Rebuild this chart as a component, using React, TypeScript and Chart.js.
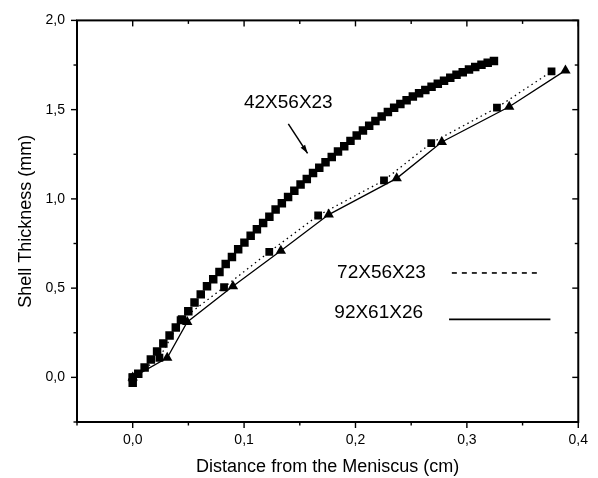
import React, { useEffect, useRef } from 'react';
import { Chart, registerables } from 'chart.js';

Chart.register(...registerables);

// ---- data (cm, mm) ----
const S42_X = [0.000, 0.000, 0.0050, 0.0107, 0.0163, 0.0219, 0.0275, 0.0331, 0.0387, 0.0443, 0.0499, 0.0555,
  0.0611, 0.0667, 0.0723, 0.0779, 0.0835, 0.0891, 0.0947, 0.1003, 0.1059, 0.1115, 0.1171, 0.1227, 0.1283,
  0.1339, 0.1395, 0.1451, 0.1507, 0.1563, 0.1619, 0.1675, 0.1731, 0.1787, 0.1843, 0.1899, 0.1955, 0.2011,
  0.2067, 0.2123, 0.2179, 0.2235, 0.2291, 0.2347, 0.2403, 0.2459, 0.2515, 0.2571, 0.2627, 0.2683, 0.2739,
  0.2795, 0.2851, 0.2907, 0.2963, 0.3019, 0.3075, 0.3131, 0.3187, 0.3243];
const S42_Y = [-0.03, 0.00, 0.02, 0.055, 0.10, 0.145, 0.19, 0.235, 0.28, 0.325, 0.37, 0.42,
  0.465, 0.51, 0.55, 0.59, 0.635, 0.675, 0.718, 0.755, 0.793, 0.83, 0.865, 0.90, 0.94,
  0.975, 1.01, 1.045, 1.08, 1.112, 1.145, 1.175, 1.205, 1.235, 1.265, 1.295, 1.325, 1.355,
  1.383, 1.41, 1.437, 1.462, 1.487, 1.51, 1.532, 1.553, 1.573, 1.592, 1.61, 1.628, 1.645,
  1.662, 1.679, 1.695, 1.71, 1.725, 1.739, 1.752, 1.763, 1.772];

const S72_X = [0.000, 0.024, 0.043, 0.082, 0.1226, 0.1665, 0.2256, 0.268, 0.327, 0.376];
const S72_Y = [0.00, 0.11, 0.32, 0.505, 0.703, 0.907, 1.104, 1.313, 1.511, 1.714];

const S92_X = [0.000, 0.031, 0.049, 0.090, 0.133, 0.176, 0.237, 0.2775, 0.338, 0.3885];
const S92_Y = [0.00, 0.11, 0.31, 0.511, 0.709, 0.912, 1.115, 1.319, 1.516, 1.720];

const LABEL_42 = '42X56X23';
const LABEL_72 = '72X56X23';
const LABEL_92 = '92X61X26';

const X_MAJOR = [0.0, 0.1, 0.2, 0.3, 0.4];
const X_MINOR = [-0.05, 0.05, 0.15, 0.25, 0.35];
const Y_MAJOR = [0.0, 0.5, 1.0, 1.5, 2.0];
const Y_MINOR = [-0.25, 0.25, 0.75, 1.25, 1.75];

const X_TITLE = 'Distance from the Meniscus (cm)';
const Y_TITLE = 'Shell Thickness (mm)';

const FONT = '"Liberation Sans", Arial, Helvetica, sans-serif';

// annotation / legend anchor points, in data units
const ANNO_TEXT = { x: 0.1397, y: 1.54 };
const ANNO_ARROW_FROM = { x: 0.1397, y: 1.42 };
const ANNO_ARROW_TO = { x: 0.157, y: 1.255 };
const LEG_72 = { tx: 0.1835, ty: 0.585, x1: 0.2865, x2: 0.367, ly: 0.585 };
const LEG_92 = { tx: 0.181, ty: 0.36, x1: 0.284, x2: 0.375, ly: 0.325 };

const pts = (xs: number[], ys: number[]) => xs.map((x, i) => ({ x, y: ys[i] }));
const fmt = (v: number) => v.toFixed(1).replace('.', ',');

const decorPlugin = {
  id: 'decor',
  afterDraw(chart: any) {
    const { ctx, chartArea: a, scales } = chart;
    const xs = scales.x;
    const ys = scales.y;
    const px = (v: number) => xs.getPixelForValue(v);
    const py = (v: number) => ys.getPixelForValue(v);
    const line = (x1: number, y1: number, x2: number, y2: number) => {
      ctx.beginPath();
      ctx.moveTo(x1, y1);
      ctx.lineTo(x2, y2);
      ctx.stroke();
    };
    ctx.save();
    ctx.strokeStyle = '#000';
    ctx.fillStyle = '#000';
    ctx.lineWidth = 2;
    ctx.strokeRect(a.left, a.top, a.right - a.left, a.bottom - a.top);
    ctx.lineWidth = 1.4;
    X_MAJOR.forEach((v) => {
      const p = px(v);
      line(p, a.bottom, p, a.bottom + 6);
      line(p, a.top, p, a.top + 6);
    });
    X_MINOR.forEach((v) => {
      const p = px(v);
      line(p, a.bottom, p, a.bottom + 3.5);
      line(p, a.top, p, a.top + 3.5);
    });
    Y_MAJOR.forEach((v) => {
      const p = py(v);
      line(a.left - 6, p, a.left, p);
      line(a.right - 6, p, a.right, p);
    });
    Y_MINOR.forEach((v) => {
      const p = py(v);
      line(a.left - 3.5, p, a.left, p);
      line(a.right - 3.5, p, a.right, p);
    });

    // annotation
    ctx.font = `19px ${FONT}`;
    ctx.textAlign = 'center';
    ctx.textBaseline = 'middle';
    ctx.fillText(LABEL_42, px(ANNO_TEXT.x), py(ANNO_TEXT.y));
    const fx = px(ANNO_ARROW_FROM.x), fy = py(ANNO_ARROW_FROM.y);
    const tx = px(ANNO_ARROW_TO.x), ty = py(ANNO_ARROW_TO.y);
    ctx.lineWidth = 1.5;
    line(fx, fy, tx, ty);
    const ang = Math.atan2(ty - fy, tx - fx);
    ctx.beginPath();
    ctx.moveTo(tx, ty);
    ctx.lineTo(tx - 9 * Math.cos(ang - 0.3), ty - 9 * Math.sin(ang - 0.3));
    ctx.lineTo(tx - 9 * Math.cos(ang + 0.3), ty - 9 * Math.sin(ang + 0.3));
    ctx.closePath();
    ctx.fill();

    // legend
    ctx.textAlign = 'left';
    ctx.fillText(LABEL_72, px(LEG_72.tx), py(LEG_72.ty));
    ctx.fillText(LABEL_92, px(LEG_92.tx), py(LEG_92.ty));
    ctx.lineWidth = 1.6;
    ctx.setLineDash([5, 5]);
    line(px(LEG_72.x1), py(LEG_72.ly), px(LEG_72.x2), py(LEG_72.ly));
    ctx.setLineDash([]);
    line(px(LEG_92.x1), py(LEG_92.ly), px(LEG_92.x2), py(LEG_92.ly));
    ctx.restore();
  },
};

export default function App() {
  const ref = useRef<HTMLCanvasElement | null>(null);
  useEffect(() => {
    if (!ref.current) return;
    const chart = new Chart(ref.current, {
      type: 'scatter',
      data: {
        datasets: [
          {
            label: LABEL_42,
            data: pts(S42_X, S42_Y),
            showLine: false,
            pointStyle: 'rect',
            pointRadius: 6,
            backgroundColor: '#000',
            borderColor: '#000',
            borderWidth: 0,
          },
          {
            label: LABEL_72,
            data: pts(S72_X, S72_Y),
            showLine: true,
            borderDash: [1.5, 3.5],
            borderWidth: 1.3,
            borderColor: '#000',
            pointStyle: 'rect',
            pointRadius: 5.5,
            pointBorderWidth: 0,
            pointBackgroundColor: '#000',
            tension: 0,
          },
          {
            label: LABEL_92,
            data: pts(S92_X, S92_Y),
            showLine: true,
            borderWidth: 1.3,
            borderColor: '#000',
            pointStyle: 'triangle',
            pointRadius: 6,
            pointBorderWidth: 0,
            pointBackgroundColor: '#000',
            tension: 0,
          },
        ],
      },
      options: {
        animation: false,
        responsive: true,
        maintainAspectRatio: false,
        layout: { padding: { top: 14, right: 18, left: 0, bottom: 0 } },
        plugins: { legend: { display: false }, tooltip: { enabled: false } },
        scales: {
          x: {
            type: 'linear',
            min: -0.05,
            max: 0.4,
            grid: { display: false, drawTicks: false },
            border: { display: false },
            afterBuildTicks: (s: any) => { s.ticks = X_MAJOR.map((v) => ({ value: v })); },
            afterFit: (s: any) => { s.height = 56; },
            ticks: {
              padding: 10,
              color: '#000',
              font: { family: FONT, size: 14 },
              maxRotation: 0,
              callback: (v: any) => fmt(Number(v)),
            },
            title: {
              display: true,
              text: X_TITLE,
              color: '#000',
              font: { family: FONT, size: 18 },
              padding: { top: 0, bottom: 0 },
            },
          },
          y: {
            type: 'linear',
            min: -0.25,
            max: 2.0,
            grid: { display: false, drawTicks: false },
            border: { display: false },
            afterBuildTicks: (s: any) => { s.ticks = Y_MAJOR.map((v) => ({ value: v })); },
            afterFit: (s: any) => { s.width = 77; },
            ticks: {
              padding: 12,
              color: '#000',
              font: { family: FONT, size: 14 },
              callback: (v: any) => fmt(Number(v)),
            },
            title: {
              display: true,
              text: Y_TITLE,
              color: '#000',
              font: { family: FONT, size: 18 },
              padding: { top: 15, bottom: 0 },
            },
          },
        },
      },
      plugins: [decorPlugin],
    });
    return () => chart.destroy();
  }, []);

  return (
    <div style={{ position: 'fixed', left: 0, top: 0, width: 598, height: 478, background: '#fff' }}>
      <canvas ref={ref} />
    </div>
  );
}
